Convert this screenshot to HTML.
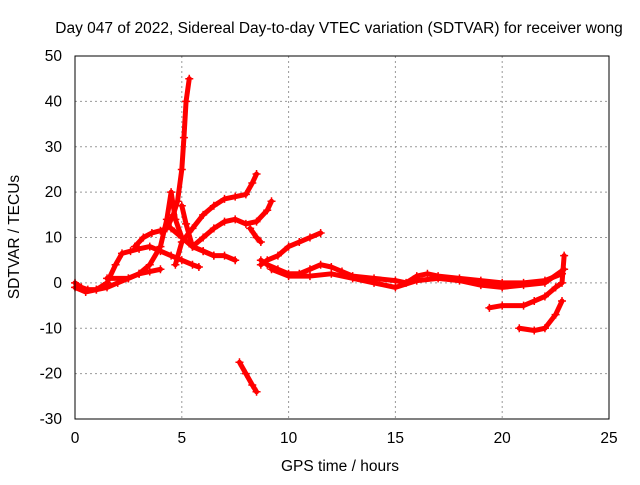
<!DOCTYPE html>
<html><head><meta charset="utf-8"><style>
body{margin:0;background:#fff}
svg text{font-family:"Liberation Sans",sans-serif;font-size:15.5px;fill:#000}
</style></head><body>
<svg id="c" width="640" height="480">
<rect width="640" height="480" fill="#fff"/>
<text x="339" y="33" text-anchor="middle">Day 047 of 2022, Sidereal Day-to-day VTEC variation (SDTVAR) for receiver wong</text>
<text x="340" y="471" text-anchor="middle">GPS time / hours</text>
<text transform="translate(19,237) rotate(-90)" text-anchor="middle">SDTVAR / TECUs</text>
<g id="grid"></g><g id="data"></g>
<rect x="75" y="56" width="534" height="363" fill="none" stroke="#000"/>
</svg>
<script>
const xTicks=[0,5,10,15,20,25];
const yTicks=[-30,-20,-10,0,10,20,30,40,50];
const track1=[[0,0],[0.3,-1],[0.6,-1.5],[1,-1.5],[1.5,-1],[2,0],[2.5,1],[3,2],[3.5,2.5],[4,3]];
const track2=[[0,-1],[0.5,-2],[1,-1.5],[1.5,0],[1.9,4],[2.2,6.5],[2.6,7],[3,7.5],[3.5,8],[4,7],[4.5,6],[5,5],[5.5,4],[5.8,3.5]];
const track3=[[2.8,8],[3.2,10],[3.6,11],[4,11.5],[4.3,12],[4.6,15],[4.8,18],[5,25],[5.1,32],[5.2,40],[5.35,45]];
const track4=[[1.5,1],[2.5,1],[3,2],[3.5,4],[4,8],[4.3,14],[4.5,20],[4.7,14],[5,10],[5.5,8],[6,7],[6.5,6]];
const track5=[[4.7,4],[5,9],[5.5,12],[6,15],[6.5,17],[7,18.5],[7.5,19],[8,19.5],[8.3,22],[8.5,24]];
const track6=[[5,17],[5.2,13],[5.5,8],[6,10],[6.5,12],[7,13.5],[7.5,14],[8,13],[8.5,13.5],[9,16],[9.2,18]];
const track7=[[4.5,12],[5,10],[5.5,8],[6,7],[6.5,6],[7,6],[7.5,5]];
const track8=[[7.7,-17.5],[8,-20],[8.3,-22.5],[8.5,-24]];
const track9=[[8.2,12],[8.5,10],[8.7,9]];
const track10=[[8.7,5],[9,4],[9.5,3],[10,2],[10.5,2],[11,3],[11.5,4],[12,3.5],[12.5,2.5],[13,1.5],[14,1],[15,0.5],[15.5,0],[16,1.5],[16.5,2],[17,1.5],[18,1],[19,0.5],[20,0],[21,0],[22,0.5],[22.8,2]];
const track11=[[8.7,4],[9,5],[9.5,6],[10,8],[10.5,9],[11,10],[11.5,11]];
const track12=[[9.2,3],[10,1.5],[11,1.5],[12,2],[13,1],[14,0],[15,-1],[16,0.5],[17,1],[18,0.5],[19,-0.5],[20,-1],[21,-0.5],[22,0],[22.9,3]];
const track13=[[19.4,-5.5],[20,-5],[21,-5],[21.5,-4],[22,-3],[22.5,-1],[22.8,0],[22.9,6]];
const track14=[[20.8,-10],[21.5,-10.5],[22,-10],[22.5,-7],[22.8,-4]];
const tracks=[track1,track2,track3,track4,track5,track6,track7,track8,track9,track10,track11,track12,track13,track14];
const X=v=>75+v*534/25, Y=v=>419-(v+30)*363/80;
const NS='http://www.w3.org/2000/svg';
const g=document.getElementById('grid'), d=document.getElementById('data');
function mk(tag,at,p){const e=document.createElementNS(NS,tag);for(const k in at)e.setAttribute(k,at[k]);p.appendChild(e);return e;}
xTicks.forEach(t=>{
 const l=mk('line',{x1:X(t),x2:X(t),y1:56,y2:419,stroke:'#999','stroke-dasharray':'2,3'},g);
 
 
 const tx=mk('text',{x:X(t),y:443,'text-anchor':'middle'},g);tx.textContent=t;
 
 
});
yTicks.forEach(t=>{
 const l=mk('line',{x1:75,x2:609,y1:Y(t),y2:Y(t),stroke:'#999','stroke-dasharray':'2,3'},g);
 
 
 const tx=mk('text',{x:62,y:Y(t)+5,'text-anchor':'end'},g);tx.textContent=t;
 
 
});
tracks.forEach(tr=>{
 const pl=mk('polyline',{points:tr.map(p=>X(p[0])+','+Y(p[1])).join(' '),fill:'none',stroke:'#f00','stroke-width':5,'stroke-linejoin':'round','stroke-linecap':'round'},d);
 
 
 tr.forEach(p=>{
  const m=mk('path',{d:`M${X(p[0])-4},${Y(p[1])}h8M${X(p[0])},${Y(p[1])-4}v8`,stroke:'#f00','stroke-width':1.5},d);
  
  
 });
});
</script>
</body></html>
